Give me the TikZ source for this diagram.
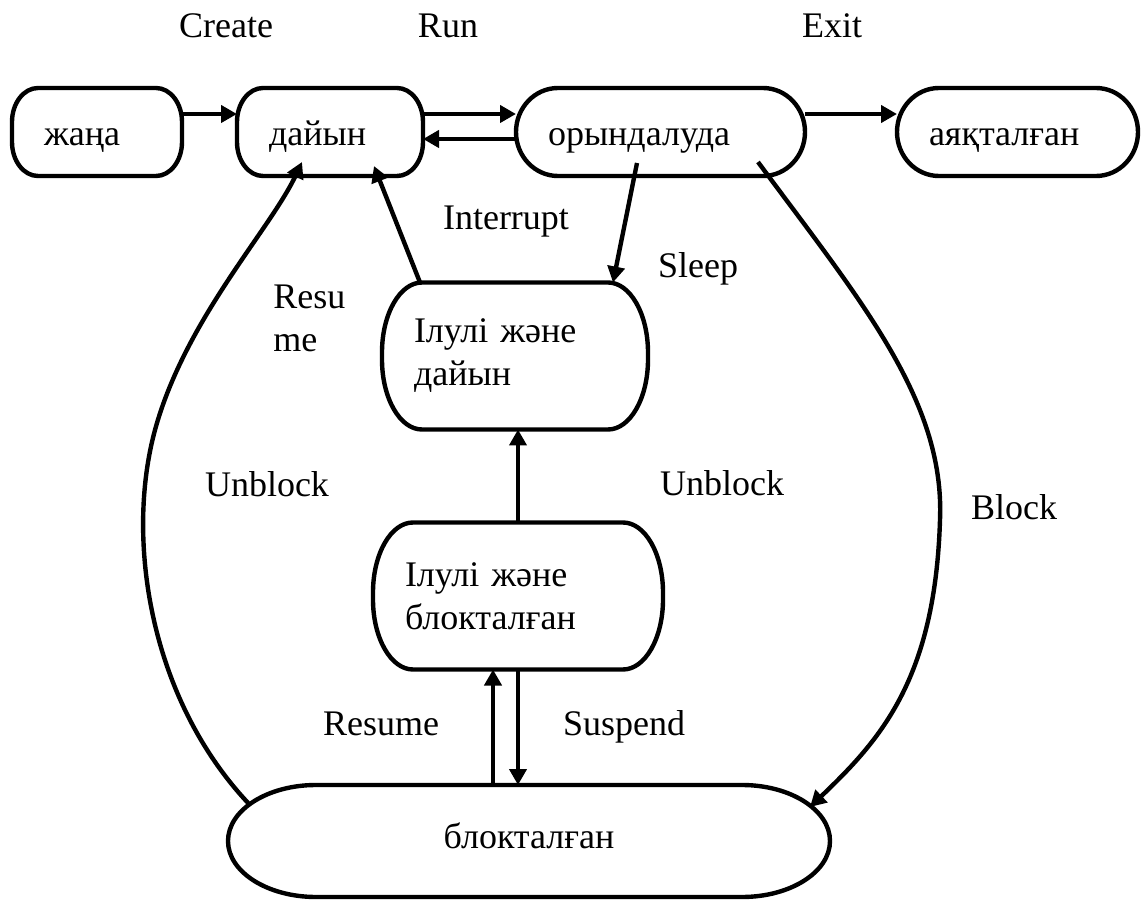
\documentclass[tikz,border=0pt]{standalone}
\usepackage{fontspec}
\setmainfont{Liberation Serif}
\usetikzlibrary{arrows.meta}

% outline of a state box: node, corner x radius, corner y radius
\newcommand{\stateframe}[3]{%
	\draw[Frame] ([xshift=#2]#1.north west) -- ([xshift=-#2]#1.north east)
		arc[start angle=90, end angle=0, x radius=#2, y radius=#3]
		-- ([yshift=#3]#1.south east)
		arc[start angle=0, end angle=-90, x radius=#2, y radius=#3]
		-- ([xshift=#2]#1.south west)
		arc[start angle=270, end angle=180, x radius=#2, y radius=#3]
		-- ([yshift=-#3]#1.north west)
		arc[start angle=180, end angle=90, x radius=#2, y radius=#3] -- cycle;}

\begin{document}
\begin{tikzpicture}[x=0.5pt, y=-0.5pt, font=\fontsize{18}{21.5}\selectfont]
	\tikzstyle{State} = [inner xsep=16pt, inner ysep=0pt, outer sep=0pt, align=left, minimum height=44pt]
	\tikzstyle{OneLine} = [text height=18pt, text depth=4pt]
	\tikzstyle{Frame} = [draw=black, line width=2.2pt]
	\tikzstyle{Arrow} = [line width=2.2pt, -{Triangle[length=8pt, width=8.5pt]}]
	\tikzstyle{Label} = [anchor=base, inner sep=0pt]
	\useasboundingbox (0,0) rectangle (1141,903);
	
	\node[name=zhana, State, OneLine, text width=53pt] at (97,132) {жаңа};
	\node[name=dayin, State, OneLine, text width=61pt] at (330,132) {дайын};
	\node[name=oryn, State, OneLine, text width=112.5pt] at (660.5,132) {орындалуда};
	\node[name=ayaq, State, OneLine, text width=88.5pt] at (1017.5,132) {аяқталған};
	\node[name=iluliD, State, text width=101pt, minimum height=73.5pt] at (515,356) {Ілулі және\\дайын};
	\node[name=iluliB, State, text width=113pt, minimum height=73.5pt] at (518,596) {Ілулі және\\блокталған};
	\node[name=blok, State, align=center, text height=11pt, text depth=4pt, text width=269pt, minimum height=56pt] at (529,841) {блокталған};
	
	\stateframe{zhana}{13pt}{17pt}
	\stateframe{dayin}{13pt}{17pt}
	\stateframe{oryn}{21pt}{22pt}
	\stateframe{ayaq}{21pt}{22pt}
	\stateframe{iluliD}{20pt}{35pt}
	\stateframe{iluliB}{20pt}{35pt}
	\stateframe{blok}{44pt}{28pt}
	
	\node[name=lCreate, Label] at (226,38) {Create};
	\node[name=lRun, Label] at (448,38) {Run};
	\node[name=lExit, Label] at (832,38) {Exit};
	\node[name=lInterrupt, Label] at (506,230) {Interrupt};
	\node[name=lSleep, Label] at (698,278) {Sleep};
	\node[name=lResu, align=left, anchor=west, inner sep=0pt] at (273,318) {Resu\\me};
	\node[name=lUnblockL, Label] at (267,497) {Unblock};
	\node[name=lUnblockR, Label] at (722,495) {Unblock};
	\node[name=lBlock, Label] at (1014,520) {Block};
	\node[name=lResume, Label] at (381,735) {Resume};
	\node[name=lSuspend, Label] at (624,735) {Suspend};
	
	\draw[Arrow] ([yshift=9pt]zhana.east) -- ([yshift=9pt]dayin.west);
	\draw[Arrow] ([yshift=9pt]dayin.east) -- ([yshift=9pt]oryn.west);
	\draw[Arrow] ([yshift=-3.5pt]oryn.west) -- ([yshift=-3.5pt]dayin.east);
	\draw[Arrow] ([yshift=9pt]oryn.east) -- ([yshift=9pt]ayaq.west);
	\draw[Arrow] ([xshift=19pt]iluliD.north west) -- ([xshift=22pt, yshift=5pt]dayin.south);
	\draw[Arrow] ([xshift=-11.75pt, yshift=6.5pt]oryn.south) -- ([xshift=49pt]iluliD.north);
	\draw[Arrow] (iluliB.north) -- (iluliB.north |- iluliD.south);
	\draw[Arrow] ([xshift=-12.5pt]iluliB.south |- blok.north) -- ([xshift=-12.5pt]iluliB.south);
	\draw[Arrow] (iluliB.south) -- (iluliB.south |- blok.north);
	\draw[Arrow] ([xshift=48.75pt, yshift=7pt]oryn.south) .. controls (860,300) and (945,400) .. (940,520)
		.. controls (935,680) and (880,740) .. ([xshift=-10pt, yshift=-11pt]blok.north east);
	\draw[Arrow] ([xshift=11pt, yshift=-10pt]blok.north west) .. controls (150,700) and (125,540) .. (155,430)
		.. controls (185,320) and (270,230) .. ([xshift=-14pt, yshift=7pt]dayin.south);
\end{tikzpicture}
\end{document}
